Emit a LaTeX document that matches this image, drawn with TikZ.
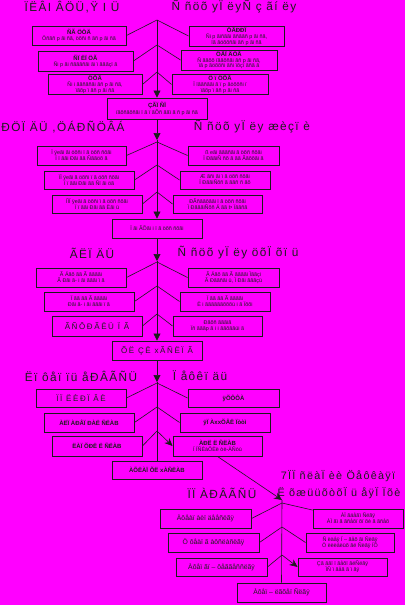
\documentclass[tikz,border=0pt]{standalone}
\usepackage{fontspec}
\setmainfont{Liberation Sans}
\newfontfamily\ttlfont[LetterSpace=12]{Liberation Sans}
\newfontfamily\widefont[LetterSpace=20]{Liberation Sans}
\usetikzlibrary{arrows.meta,calc}
\definecolor{mag}{HTML}{FF00FF}
\definecolor{ink}{HTML}{1C1C1C}
\newcommand\hdf{\fontsize{6}{6.4}\selectfont\bfseries}
\newcommand\bigf{\fontsize{8}{8.5}\selectfont}
\newcommand\midf{\fontsize{6.8}{7.5}\selectfont}
\begin{document}
\begin{tikzpicture}[x=1pt,y=-1pt,
  box/.style={draw=ink, line width=0.9pt, inner sep=0.5pt, align=center,
    font=\fontsize{5.4}{5.9}\selectfont, text=ink},
  ttl/.style={font=\ttlfont\fontsize{11.8}{12.5}\selectfont, text=ink, inner sep=0pt},
  sttl/.style={ttl, font=\ttlfont\fontsize{10.8}{11.5}\selectfont},
  conn/.style={draw=ink, line width=0.6pt},
  arr/.style={conn, -{Triangle[width=7pt,length=7pt]}},
  sarr/.style={conn, -{Stealth[width=7pt,length=8pt]}}]
\useasboundingbox (0,0) rectangle (405,605);
\fill[mag] (0,0) rectangle (405,605);

% ---------------- Section 1
\node[ttl] (t1l) at (72,7) {ÏËÂI ÂÖÜ,Ÿ I Ü};
\node[ttl] (t1r) at (234,7) {Ñ ñöõ yÏ ëyÑ ç ãí ëy};
\node[box,minimum width=94,minimum height=19] (s1l1) at (79,35.5) {{\hdf ÑÃ ÖÖÄ}\\Ôñãñ p ãi ñã, öõñi ñ ãñ p ãi ñã};
\node[box,minimum width=95,minimum height=20] (s1r1) at (236.5,36) {{\hdf ÖÃÐÐÏ}\\Ñi p ãiñããi ãñããñ p ãi ñã,\\ïã ãöõõñãi ãñ p ãi ñã};
\node[box,minimum width=95,minimum height=20] (s1l2) at (85.5,61) {{\hdf ÑÏ ËÏ ÖÃ}\\Ñi p ãi ñãããñãi ãi ï ãããçï ã};
\node[box,minimum width=96,minimum height=20] (s1r2) at (229,60) {{\hdf ÖÃÏ ÄÖÃ}\\Ñ ããõõ ïããõñãi ãñ p ãi ñã,\\ïã p ãöõõñi ãñi ïõçï ãñã ã};
\node[box,minimum width=94,minimum height=19] (s1l3) at (95,84.5) {{\hdf ÖÕÃ}\\Ñi i ããñãñãi ãñ p ãi ñã,\\ïãõp ï ãñ p ãi ñã};
\node[box,minimum width=96,minimum height=19] (s1r3) at (220,84.5) {{\hdf Ö ï ÖÕÃ}\\Ï ïããñããi ã ï p ãöõõñi ï\\ïãõp ï ãñ p ãi ñã};
\node[box,minimum width=100,minimum height=21] (c1) at (157,108.5) {{\hdf ÇÃÏ ÑÏ}\\ïãõñãõñãi ï ã ï ãÕñ ããï ã ñ p ãi ñã};
\coordinate (p1a) at (157,20);
\coordinate (p1b) at (157,45);
\coordinate (p1c) at (157,72);
\draw[conn] (p1a) -- (s1l1.east);
\draw[conn] (p1a) -- (s1r1.west);
\draw[conn] (p1b) -- (s1l2.east);
\draw[conn] (p1b) -- (s1r2.west);
\draw[conn] (p1c) -- (s1l3.east);
\draw[conn] (p1c) -- (s1r3.west);
\draw[arr] (p1a) -- (c1.north);

% ---------------- Section 2
\node[ttl] (t2l) at (63,127) {ÐÖÏ ÄÜ ,ÖÁÐÑÖÂÁ};
\node[ttl] (t2r) at (252,127) {Ñ ñöõ yÏ ëy æèçï è};
\node[box,minimum width=89,minimum height=19] (s2l1) at (81.5,155.5) {Ï ÿeãi ãi öõñi ï ã öõñ ñõãi\\Ï ï ããi Ðãi ãã Ñããöõ ã};
\node[box,minimum width=91,minimum height=19] (s2r1) at (233.5,155.5) {ß eãi ãããñãi ã öõñ ñõãi\\Ï ÐããiÑ ñõ ã ãã Ããõõãi ã};
\node[box,minimum width=90,minimum height=18] (s2l2) at (89,180) {ÏÏ ÿeãi ã öõñi ï ã öõñ ñõãi\\Ï ï ããi Ðãi ãã Ñï ãi öã};
\node[box,minimum width=90,minimum height=18] (s2r2) at (225,180) {Æ ãñi ãi ï ã öõñ ñõãi\\Ï ÐããiÑõñ ã ããñ ñ ãõ};
\node[box,minimum width=90,minimum height=18] (s2l3) at (97,204) {ÏÏÏ ÿeãi ã öõñi ï ã öõñ ñõãi\\Ï ï ããi Ðãi ãã Ëãi ü};
\node[box,minimum width=89,minimum height=18] (s2r3) at (217.5,204) {ÐÃñããõããi ï ã öõñ ñõãi\\Ï ÐãããiÑõñ Ä ãã Þ Ïããñã};
\node[box,minimum width=90,minimum height=19] (c2) at (157,228.5) {Ï ãi ÃÕãi i ï ã öõñ ñõãi};
\coordinate (q2) at (157,140);
\coordinate (p2a) at (157,142);
\coordinate (p2b) at (157,165);
\coordinate (p2c) at (157,192);
\draw[arr] (c1.south) -- (q2);
\draw[conn] (p2a) -- (s2l1.east);
\draw[conn] (p2a) -- (s2r1.west);
\draw[conn] (p2b) -- (s2l2.east);
\draw[conn] (p2b) -- (s2r2.west);
\draw[conn] (p2c) -- (s2l3.east);
\draw[conn] (p2c) -- (s2r3.west);
\draw[arr] (q2) -- (c2.north);

% ---------------- Section 3
\node[ttl] (t3l) at (92,253) {ÃËÏ ÄÜ};
\node[ttl] (t3r) at (238,253) {Ñ ñöõ yÏ ëy öõÏ õï ü};
\node[box,minimum width=90,minimum height=19] (s3l1) at (81,277.5) {Ã Äãõ ãã Ã ããããi\\Ã Ðãi ã- i ãi ãããi ï ã};
\node[box,minimum width=91,minimum height=19] (s3r1) at (233.5,277.5) {Ã Äãõ ãã Ã ããããi Ïããçi\\Ã Ðããñãi ü, Ï Ðãi ãããçü};
\node[box,minimum width=90,minimum height=19] (s3l2) at (89,301.5) {Ï ãã ãã Ã ããããi\\Ðãi ã- i ãi ãããi ï ã};
\node[box,minimum width=90,minimum height=19] (s3r2) at (225,301.5) {Ï ãã ãã Ã ããããi\\Ë i ããããããõõõü i ã Ïõõi};
\node[box,minimum width=90,minimum height=20,font=\widefont\bigf] (s3l3) at (97,326) {ÃÑÔÐÃËÜ Ï Ã};
\node[box,minimum width=89,minimum height=20] (s3r3) at (217.5,326) {Ðãõñ ãããiã\\Ïñ ãããp ã i i ããõããüi ã};
\node[box,minimum width=90,minimum height=19,font=\widefont\bigf] (c3) at (157,350.5) {ÕË ÇË xÃÑËÏ Ã};
\coordinate (q3) at (157,261);
\coordinate (p3a) at (157,262);
\coordinate (p3b) at (157,286);
\coordinate (p3c) at (157,314);
\draw[arr] (c2.south) -- (q3);
\draw[conn] (p3a) -- (s3l1.east);
\draw[conn] (p3a) -- (s3r1.west);
\draw[conn] (p3b) -- (s3l2.east);
\draw[conn] (p3b) -- (s3r2.west);
\draw[conn] (p3c) -- (s3l3.east);
\draw[conn] (p3c) -- (s3r3.west);
\draw[arr] (q3) -- (c3.north);

% ---------------- Section 4
\node[ttl] (t4l) at (81,376) {Ëï ôåï ïü åÐÂÃÑÜ};
\node[ttl] (t4r) at (200,376) {Ï åôêï äü};
\node[box,minimum width=90,minimum height=18,font=\widefont\bigf] (s4l1) at (81,398) {ÏÏ ËÈÐÏ ÂÈ};
\node[box,minimum width=91,minimum height=18,font=\hdf] (s4r1) at (233.5,398) {ÿÕÔÔÀ};
\node[box,minimum width=90,minimum height=19,font=\hdf] (s4l2) at (89,422.5) {ÀËÏ ÀÐÂÏ ÐÀË ÑËÀB};
\node[box,minimum width=90,minimum height=19,font=\hdf] (s4r2) at (225,422.5) {ÿÏ ÀxxÕÂË Ïòòì};
\node[box,minimum width=90,minimum height=20,font=\hdf] (s4l3) at (97,446) {ËÀÏ ÕÐË Ë ÑËÀB};
\node[box,minimum width=89,minimum height=20] (s4r3) at (217.5,446) {{\hdf ÀÐË Ë ÑËÀB}\\Ï ÏÑÈàÔÈë òè-ÀÑòù};
\node[box,minimum width=90,minimum height=18,font=\hdf] (c4) at (157,470) {ÀÕËÀÏ ÕË xÀÑËÀB};
\coordinate (q4) at (157,382);
\coordinate (p4a) at (157,383);
\coordinate (p4b) at (157,407);
\coordinate (p4c) at (157,431);
\draw[arr] (c3.south) -- (q4);
\draw[conn] (p4a) -- (s4l1.east);
\draw[conn] (p4a) -- (s4r1.west);
\draw[conn] (p4b) -- (s4l2.east);
\draw[conn] (p4b) -- (s4r2.west);
\draw[conn] (p4c) -- (s4l3.east);
\draw[sarr] (p4c) -- (s4r3.west);
\draw[conn] (q4) -- (c4.north);

% ---------------- Section 5
\node[sttl] (t5r1) at (338,476) {7ÏÏ ñëàÏ èè Öåôêàÿï};
\node[sttl] (t5r2) at (339,493) {Ë õæüüõòõÏ ü åÿÏ Ïõè};
\node[ttl] (t5l) at (222,493) {ÏÏ ÀÐÂÃÑÜ};
\node[box,minimum width=91,minimum height=19,font=\midf] (s5l1) at (205.5,518.5) {Àôåàï àèï äååñëãÿ};
\node[box,minimum width=90,minimum height=19] (s5r1) at (358,518.5) {ÀÏ ãäåãï Ñëãÿ\\ÀÏ ãï ã ãñåõï õï õè ã ãñåõ};
\node[box,minimum width=91,minimum height=19,font=\midf] (s5l2) at (213.5,542.5) {Ö ôåàï ã àôñëàñëãÿ};
\node[box,minimum width=88,minimum height=19] (s5r2) at (350,542.5) {Ñ ëäåÿ Ï – ãåõ ãi Ñëãÿ\\Ö ëëëåëüõ ãë Ñëãÿ ÏÕ};
\node[box,minimum width=91,minimum height=18,font=\midf] (s5l3) at (221.5,567) {Àôåï ãï – ôåããåññëãÿ};
\node[box,minimum width=89,minimum height=18] (s5r3) at (342.5,567) {Çã ããï ï ãåõï ãëÑëãÿ\\ÏÑ ï ãåã ã ï ãÿ};
\node[box,minimum width=89,minimum height=19,font=\midf] (c5) at (281.5,592.5) {Àôåï – ëãõåï Ñëãÿ};
\coordinate (q5) at (282,500);
\coordinate (p5a) at (282,503);
\coordinate (p5b) at (282,527);
\coordinate (p5c) at (282,555);
\draw[sarr] (s4r3.south) -- (q5);
\draw[conn] (p5a) -- (s5l1.east);
\draw[conn] (p5a) -- ($(s5r1.north west)+(0,1.5)$);
\draw[conn] (p5b) -- (s5l2.east);
\draw[conn] (p5b) -- (s5r2.west);
\draw[conn] (p5c) -- (s5l3.east);
\draw[sarr] (p5c) -- (s5r3.west);
\draw[conn] (q5) -- (c5.north);
\end{tikzpicture}
\end{document}
